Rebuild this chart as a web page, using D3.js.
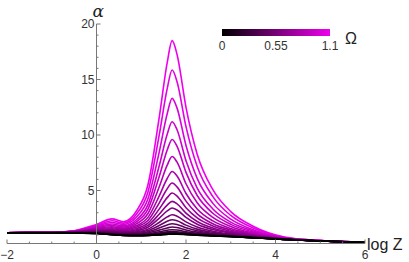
<!DOCTYPE html>
<html>
<head>
<meta charset="utf-8">
<script src="https://d3js.org/d3.v7.min.js"></script>
<style>
  body { margin: 0; background: #fff; }
  svg { display: block; font-family: "Liberation Sans", Arial, sans-serif; }
</style>
</head>
<body>
<svg id="chart" width="409" height="262"></svg>
<script>
// log Z knots shared by every curve
const logZ = [-2, -1, -0.5, 0, 0.35, 0.6, 0.9, 1.15, 1.4, 1.58, 1.69, 1.8, 2.0, 2.25, 2.6, 3.0, 3.5, 4.2, 5, 6];

// Omega value of each curve (top curve first)
const omega = [1.1, 1.05, 1.0, 0.95, 0.9, 0.85, 0.8, 0.75, 0.7, 0.65, 0.6, 0.55,
               0.5, 0.45, 0.4, 0.35, 0.3, 0.25, 0.2, 0.15, 0.1, 0.05, 0];

// alpha, one row per omega
const alpha = [
  [1.20, 1.23, 1.38, 1.94, 2.44, 2.19, 3.20, 5.52, 11.54, 16.52, 18.50, 17.25, 12.49, 8.27, 5.08, 3.10, 1.78, 0.81, 0.50, 0.34],
  [1.20, 1.23, 1.36, 1.86, 2.27, 2.06, 2.91, 4.87, 9.96, 14.18, 15.85, 14.79, 10.75, 7.16, 4.45, 2.75, 1.62, 0.77, 0.49, 0.34],
  [1.20, 1.22, 1.35, 1.79, 2.12, 1.93, 2.63, 4.25, 8.44, 11.92, 13.30, 12.42, 9.06, 6.09, 3.84, 2.42, 1.47, 0.74, 0.49, 0.33],
  [1.20, 1.22, 1.33, 1.72, 1.98, 1.82, 2.39, 3.73, 7.20, 10.07, 11.20, 10.47, 7.68, 5.22, 3.34, 2.15, 1.35, 0.72, 0.48, 0.33],
  [1.20, 1.22, 1.31, 1.66, 1.85, 1.72, 2.20, 3.32, 6.23, 8.65, 9.60, 8.98, 6.63, 4.55, 2.95, 1.95, 1.25, 0.70, 0.48, 0.33],
  [1.20, 1.22, 1.30, 1.60, 1.74, 1.62, 2.01, 2.93, 5.31, 7.28, 8.06, 7.55, 5.61, 3.90, 2.58, 1.75, 1.16, 0.68, 0.47, 0.33],
  [1.20, 1.22, 1.29, 1.54, 1.64, 1.54, 1.84, 2.58, 4.50, 6.08, 6.71, 6.30, 4.73, 3.34, 2.26, 1.57, 1.08, 0.67, 0.47, 0.33],
  [1.20, 1.21, 1.27, 1.49, 1.55, 1.46, 1.71, 2.30, 3.87, 5.16, 5.67, 5.33, 4.04, 2.90, 2.01, 1.44, 1.02, 0.65, 0.46, 0.32],
  [1.20, 1.21, 1.26, 1.44, 1.47, 1.39, 1.58, 2.06, 3.32, 4.36, 4.77, 4.50, 3.45, 2.53, 1.80, 1.32, 0.97, 0.64, 0.46, 0.32],
  [1.20, 1.21, 1.25, 1.39, 1.39, 1.32, 1.47, 1.85, 2.86, 3.69, 4.02, 3.80, 2.96, 2.21, 1.62, 1.23, 0.92, 0.63, 0.46, 0.32],
  [1.20, 1.21, 1.24, 1.35, 1.33, 1.26, 1.38, 1.69, 2.49, 3.16, 3.42, 3.25, 2.57, 1.96, 1.48, 1.15, 0.89, 0.63, 0.46, 0.32],
  [1.20, 1.21, 1.23, 1.32, 1.28, 1.21, 1.29, 1.52, 2.12, 2.62, 2.82, 2.69, 2.17, 1.71, 1.33, 1.07, 0.85, 0.62, 0.46, 0.32],
  [1.20, 1.21, 1.22, 1.28, 1.23, 1.16, 1.22, 1.39, 1.84, 2.22, 2.37, 2.28, 1.88, 1.52, 1.23, 1.02, 0.82, 0.62, 0.45, 0.32],
  [1.20, 1.20, 1.21, 1.25, 1.18, 1.12, 1.15, 1.28, 1.62, 1.90, 2.01, 1.94, 1.64, 1.37, 1.14, 0.97, 0.80, 0.61, 0.45, 0.32],
  [1.20, 1.20, 1.21, 1.22, 1.15, 1.08, 1.10, 1.19, 1.43, 1.63, 1.71, 1.66, 1.45, 1.25, 1.07, 0.93, 0.79, 0.61, 0.45, 0.32],
  [1.20, 1.20, 1.20, 1.20, 1.11, 1.05, 1.05, 1.11, 1.28, 1.42, 1.47, 1.44, 1.29, 1.15, 1.01, 0.90, 0.77, 0.60, 0.45, 0.32],
  [1.20, 1.20, 1.20, 1.18, 1.09, 1.02, 1.02, 1.06, 1.17, 1.27, 1.31, 1.29, 1.19, 1.08, 0.98, 0.88, 0.76, 0.60, 0.45, 0.32],
  [1.20, 1.20, 1.19, 1.16, 1.07, 1.00, 0.99, 1.02, 1.11, 1.19, 1.22, 1.20, 1.12, 1.04, 0.95, 0.87, 0.76, 0.60, 0.45, 0.32],
  [1.20, 1.20, 1.19, 1.15, 1.05, 0.98, 0.97, 0.99, 1.06, 1.13, 1.15, 1.14, 1.08, 1.01, 0.94, 0.86, 0.75, 0.60, 0.45, 0.32],
  [1.20, 1.20, 1.18, 1.13, 1.04, 0.97, 0.95, 0.97, 1.03, 1.09, 1.12, 1.11, 1.06, 1.00, 0.93, 0.85, 0.75, 0.60, 0.45, 0.32],
  [1.20, 1.20, 1.18, 1.13, 1.03, 0.96, 0.94, 0.96, 1.02, 1.07, 1.09, 1.09, 1.05, 0.99, 0.92, 0.85, 0.75, 0.60, 0.45, 0.32],
  [1.20, 1.20, 1.18, 1.12, 1.02, 0.95, 0.93, 0.95, 1.01, 1.06, 1.08, 1.08, 1.04, 0.98, 0.92, 0.85, 0.75, 0.60, 0.45, 0.32],
  [1.20, 1.20, 1.18, 1.12, 1.02, 0.95, 0.93, 0.95, 1.00, 1.05, 1.07, 1.07, 1.03, 0.98, 0.92, 0.85, 0.75, 0.60, 0.45, 0.32]
];

const xTicks = [-2, 0, 2, 4, 6];
const yTicks = [5, 10, 15, 20];
const legendTicks = [0, 0.55, 1.1];

const svg = d3.select("#chart");

const x = d3.scaleLinear().domain([-2, 6]).range([7, 365]);
const y = d3.scaleLinear().domain([0, 20]).range([246, 24]);
const axisAt = 0.225; // where the horizontal axis crosses

const color = d3.scaleLinear().domain([0, 1.1])
  .range(["#000000", "#ee00ee"]).interpolate(d3.interpolateRgb);

const axisColor = "#777";

// curves, dark ones drawn last so they sit on top
const line = d3.line()
  .x((d, i) => x(logZ[i]))
  .y(d => y(d))
  .curve(d3.curveMonotoneX);

svg.append("g")
  .selectAll("path")
  .data(alpha)
  .join("path")
  .attr("d", line)
  .attr("fill", "none")
  .attr("stroke", (d, i) => color(omega[i]))
  .attr("stroke-width", 1.6);

// x axis (Mathematica style: ticks point inward)
const xAxis = svg.append("g").attr("transform", `translate(0,${y(axisAt)})`);
xAxis.append("line")
  .attr("x1", x(-2)).attr("x2", x(6))
  .attr("stroke", axisColor).attr("stroke-width", 1);
const xMinor = d3.range(-2, 6.01, 0.5);
xAxis.selectAll(".xt")
  .data(xMinor)
  .join("line")
  .attr("x1", d => x(d)).attr("x2", d => x(d))
  .attr("y1", 0).attr("y2", d => (Math.abs(d % 2) < 1e-6 ? -4 : -2))
  .attr("stroke", axisColor);
xAxis.selectAll(".xl")
  .data(xTicks)
  .join("text")
  .attr("x", d => x(d))
  .attr("y", 15)
  .attr("text-anchor", "middle")
  .attr("font-size", 12)
  .attr("fill", "#333")
  .text(d => (d < 0 ? "\u2212" + (-d) : d));

svg.append("text")
  .attr("x", 367).attr("y", y(axisAt) + 6)
  .attr("font-size", 16).attr("fill", "#222")
  .text("log Z");

// y axis
const yAxis = svg.append("g").attr("transform", `translate(${x(0)},0)`);
yAxis.append("line")
  .attr("y1", y(axisAt)).attr("y2", y(20))
  .attr("stroke", axisColor).attr("stroke-width", 1);
const yMinor = d3.range(1, 20.5, 1);
yAxis.selectAll(".yt")
  .data(yMinor)
  .join("line")
  .attr("y1", d => y(d)).attr("y2", d => y(d))
  .attr("x1", 0).attr("x2", d => (d % 5 === 0 ? 4 : 2))
  .attr("stroke", axisColor);
yAxis.selectAll(".yl")
  .data(yTicks)
  .join("text")
  .attr("x", -2)
  .attr("y", d => y(d) + 4)
  .attr("text-anchor", "end")
  .attr("font-size", 12)
  .attr("fill", "#333")
  .text(d => d);

svg.append("text")
  .attr("x", x(0) - 4).attr("y", 17)
  .attr("font-size", 17).attr("font-style", "italic")
  .attr("fill", "#222")
  .attr("font-family", "'DejaVu Serif', serif")
  .text("\u03b1");

// colour bar legend
const lx = d3.scaleLinear().domain([0, 1.1]).range([222, 330]);
const defs = svg.append("defs");
const grad = defs.append("linearGradient").attr("id", "omegaGrad");
grad.selectAll("stop")
  .data(d3.range(0, 1.1001, 0.11))
  .join("stop")
  .attr("offset", d => d / 1.1)
  .attr("stop-color", d => color(d));
svg.append("rect")
  .attr("x", lx(0)).attr("y", 29)
  .attr("width", lx(1.1) - lx(0)).attr("height", 7)
  .attr("fill", "url(#omegaGrad)");
svg.selectAll(".ll")
  .data(legendTicks)
  .join("text")
  .attr("x", d => lx(d))
  .attr("y", 50)
  .attr("text-anchor", "middle")
  .attr("font-size", 12)
  .attr("fill", "#333")
  .text(d => d);
svg.append("text")
  .attr("x", 345).attr("y", 44)
  .attr("font-size", 16).attr("fill", "#222")
  .text("\u03a9");
</script>
</body>
</html>
